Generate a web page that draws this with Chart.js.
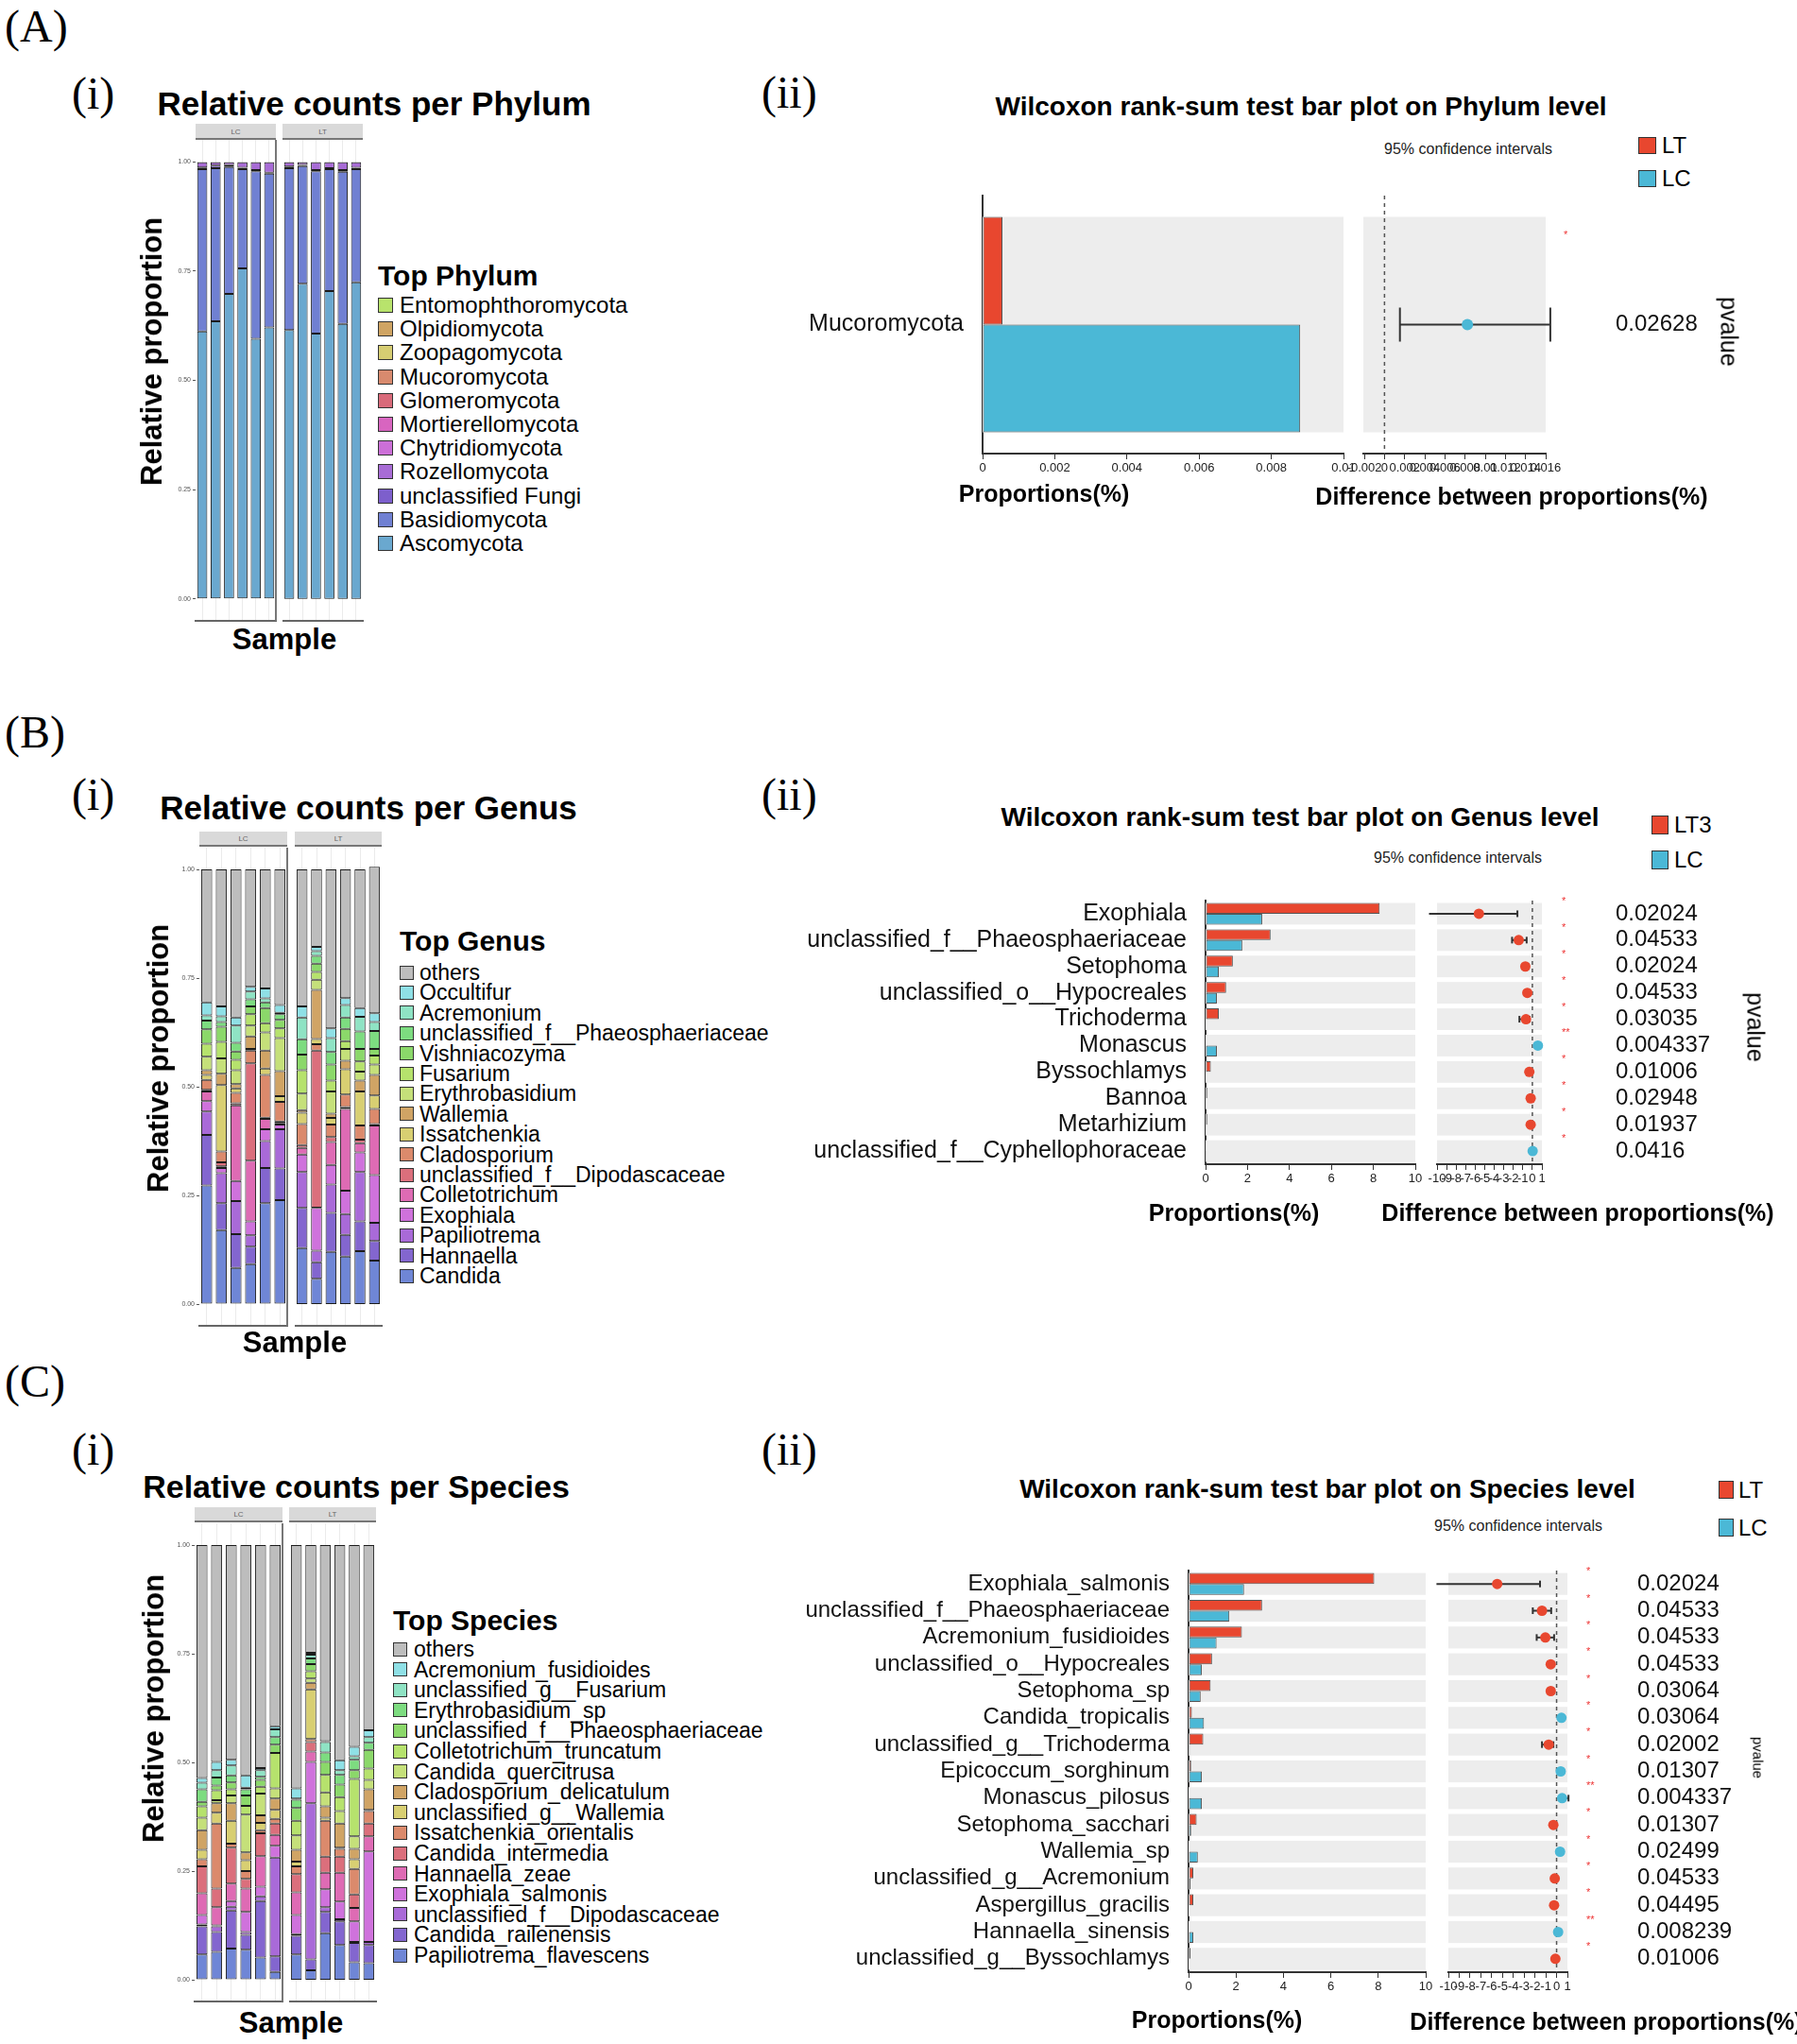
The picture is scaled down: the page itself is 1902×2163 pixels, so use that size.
<!DOCTYPE html>
<html>
<head>
<meta charset="utf-8">
<title>Fungal community composition and Wilcoxon tests</title>
<script src="https://cdn.jsdelivr.net/npm/chart.js@4.4.1/dist/chart.umd.min.js"></script>
<style>
  body { margin: 0; width: 1902px; height: 2163px; background: #fff; position: relative; overflow: hidden; }
  canvas { position: absolute; }
  .t { position: absolute; white-space: nowrap; line-height: 1; color: #000; }
  .box { position: absolute; box-sizing: border-box; border: 1px solid #333; }
  .strip { position: absolute; box-sizing: border-box; background: #d9d9d9; border-bottom: 2px solid #777;
           font: 8px "Liberation Sans", Arial, sans-serif; color: #666; text-align: center; }
</style>
</head>
<body>
<script>
// ---------- samples ----------
const samplesLC = ['LC1', 'LC2', 'LC3', 'LC4', 'LC5', 'LC6'];
const samplesLT = ['LT1', 'LT2', 'LT3', 'LT4', 'LT5', 'LT6'];
const yTicks = [0, 0.25, 0.5, 0.75, 1];

// ---------- (A i) phylum, stack order bottom -> top ----------
const phylumNames = ['Ascomycota', 'Basidiomycota', 'unclassified Fungi', 'Rozellomycota', 'Chytridiomycota',
  'Mortierellomycota', 'Glomeromycota', 'Mucoromycota', 'Zoopagomycota', 'Olpidiomycota', 'Entomophthoromycota'];
const phylumColors = ['#6aa8cf', '#7080d2', '#7d5fcc', '#a86cd6', '#cc6fd8', '#d865c0', '#d96a7a', '#d88a6e',
  '#d6cd72', '#cfa463', '#b8e36c'];
// one row per sample (LC1..LC6, LT1..LT6), columns follow phylumNames
const phylumBySample = [
  [0.612, 0.371, 0.004, 0.0115, 0.0005, 0.0004, 0.0002, 0.0001, 0.0001, 0.0001, 0.0001],
  [0.635, 0.350, 0.006, 0.0075, 0.0005, 0.0004, 0.0002, 0.0001, 0.0001, 0.0001, 0.0001],
  [0.698, 0.290, 0.004, 0.0065, 0.0005, 0.0004, 0.0002, 0.0001, 0.0001, 0.0001, 0.0001],
  [0.756, 0.227, 0.003, 0.0125, 0.0005, 0.0004, 0.0002, 0.0001, 0.0001, 0.0001, 0.0001],
  [0.595, 0.383, 0.003, 0.0175, 0.0005, 0.0004, 0.0002, 0.0001, 0.0001, 0.0001, 0.0001],
  [0.621, 0.352, 0.002, 0.0235, 0.0005, 0.0004, 0.0002, 0.0001, 0.0001, 0.0001, 0.0001],
  [0.615, 0.370, 0.004, 0.0095, 0.0005, 0.0004, 0.0002, 0.0001, 0.0001, 0.0001, 0.0001],
  [0.721, 0.269, 0.003, 0.0055, 0.0005, 0.0004, 0.0002, 0.0001, 0.0001, 0.0001, 0.0001],
  [0.607, 0.371, 0.003, 0.0175, 0.0005, 0.0004, 0.0002, 0.0001, 0.0001, 0.0001, 0.0001],
  [0.704, 0.279, 0.002, 0.0135, 0.0005, 0.0004, 0.0002, 0.0001, 0.0001, 0.0001, 0.0001],
  [0.629, 0.348, 0.004, 0.0175, 0.0005, 0.0004, 0.0002, 0.0001, 0.0001, 0.0001, 0.0001],
  [0.724, 0.259, 0.003, 0.0125, 0.0005, 0.0004, 0.0002, 0.0001, 0.0001, 0.0001, 0.0001]
];

// ---------- (B i) genus ----------
const genusNames = ['Candida', 'Hannaella', 'Papiliotrema', 'Exophiala', 'Colletotrichum',
  'unclassified_f__Dipodascaceae', 'Cladosporium', 'Issatchenkia', 'Wallemia', 'Erythrobasidium', 'Fusarium',
  'Vishniacozyma', 'unclassified_f__Phaeosphaeriaceae', 'Acremonium', 'Occultifur', 'others'];
const genusColors = ['#6f86d6', '#8366cf', '#a96ad8', '#cf72dc', '#de6bb4', '#db6f7c', '#db8a6c', '#d8cf72',
  '#d0a465', '#c5e07a', '#b6e26d', '#8bd86a', '#7ddc80', '#8fe3c4', '#8fe0e6', '#bdbdbd'];
const genusBySample = [
  [.273, .116, .054, .024, .022, .004, .023, .011, .011, .031, .030, .033, .020, .012, .030, .306],
  [.170, .062, .069, .012, .004, .009, .025, .153, .026, .035, .038, .035, .011, .013, .023, .315],
  [.083, .078, .076, .046, .174, .005, .024, .010, .010, .032, .024, .019, .020, .040, .018, .341],
  [.092, .040, .026, .032, .140, .224, .029, .004, .029, .025, .026, .018, .016, .018, .011, .270],
  [.232, .081, .062, .027, .024, .003, .098, .015, .041, .042, .021, .035, .013, .009, .023, .274],
  [.239, .073, .090, .011, .004, .003, .045, .013, .058, .076, .022, .020, .013, .003, .018, .312],
  [.129, .092, .083, .040, .015, .007, .048, .026, .006, .038, .054, .036, .035, .050, .026, .315],
  [.058, .038, .027, .098, .001, .361, .015, .012, .113, .023, .018, .019, .018, .011, .010, .178],
  [.120, .090, .065, .045, .053, .011, .029, .015, .010, .051, .025, .037, .029, .032, .022, .366],
  [.109, .050, .048, .054, .188, .004, .029, .058, .020, .027, .018, .028, .026, .029, .016, .296],
  [.122, .068, .114, .045, .021, .008, .033, .078, .025, .021, .023, .029, .040, .034, .020, .319],
  [.100, .045, .042, .110, .114, .003, .035, .031, .047, .024, .021, .015, .041, .021, .020, .337]
];

// ---------- (C i) species ----------
const speciesNames = ['Papiliotrema_flavescens', 'Candida_railenensis', 'unclassified_f__Dipodascaceae',
  'Exophiala_salmonis', 'Hannaella_zeae', 'Candida_intermedia', 'Issatchenkia_orientalis', 'unclassified_g__Wallemia',
  'Cladosporium_delicatulum', 'Candida_quercitrusa', 'Colletotrichum_truncatum', 'unclassified_f__Phaeosphaeriaceae',
  'Erythrobasidium_sp', 'unclassified_g__Fusarium', 'Acremonium_fusidioides', 'others'];
const speciesColors = ['#6f86d6', '#8366cf', '#a96ad8', '#cf72dc', '#de6bb4', '#db6f7c', '#db8a6c', '#d8cf72',
  '#d0a465', '#c5e07a', '#b6e26d', '#8bd86a', '#7ddc80', '#8fe3c4', '#8fe0e6', '#bdbdbd'];
const speciesBySample = [
  [.058, .065, .004, .022, .050, .062, .016, .022, .045, .029, .026, .010, .029, .015, .011, .536],
  [.064, .046, .013, .002, .042, .043, .149, .025, .022, .007, .023, .011, .018, .017, .019, .499],
  [.072, .087, .009, .013, .040, .083, .009, .053, .040, .018, .014, .016, .016, .023, .013, .494],
  [.069, .034, .007, .046, .054, .022, .018, .025, .018, .087, .020, .024, .014, .004, .028, .530],
  [.051, .130, .011, .022, .070, .053, .007, .017, .017, .050, .016, .016, .007, .015, .005, .513],
  [.018, .036, .227, .027, .025, .026, .011, .021, .026, .023, .082, .019, .017, .018, .007, .417],
  [.058, .043, .004, .044, .052, .042, .018, .011, .027, .033, .034, .029, .019, .003, .023, .560],
  [.022, .025, .359, .095, .024, .022, .007, .114, .015, .010, .017, .016, .013, .009, .004, .248],
  [.107, .049, .011, .041, .038, .037, .083, .007, .026, .032, .040, .030, .022, .024, .002, .451],
  [.080, .054, .005, .041, .066, .037, .018, .003, .055, .029, .032, .029, .022, .011, .023, .495],
  [.040, .045, .002, .047, .031, .031, .059, .022, .024, .029, .132, .020, .024, .008, .022, .464],
  [.038, .042, .007, .208, .035, .029, .029, .003, .047, .022, .026, .043, .016, .013, .016, .426]
];

// ---------- (A ii) Wilcoxon, phylum ----------
const phylumTestTaxa = ['Mucoromycota'];
const phylumTestLT = [0.00055];
const phylumTestLC = [0.0088];
const phylumDiff = [0.00823];
const phylumCiLow = [0.00153];
const phylumCiHigh = [0.01646];
const phylumP = [0.02628];
const phylumPropTicks = [0, 0.002, 0.004, 0.006, 0.008, 0.01];
const phylumDiffTicks = [-0.002, 0, 0.002, 0.004, 0.006, 0.008, 0.01, 0.012, 0.014, 0.016];

// ---------- (B ii) Wilcoxon, genus ----------
const genusTestTaxa = ['Exophiala', 'unclassified_f__Phaeosphaeriaceae', 'Setophoma', 'unclassified_o__Hypocreales',
  'Trichoderma', 'Monascus', 'Byssochlamys', 'Bannoa', 'Metarhizium', 'unclassified_f__Cyphellophoraceae'];
const genusTestLT = [8.3, 3.1, 1.3, 0.98, 0.63, 0.02, 0.25, 0.08, 0.08, 0.01];
const genusTestLC = [2.7, 1.75, 0.63, 0.54, 0.03, 0.54, 0.02, 0.01, 0.01, 0.04];
const genusDiff = [-5.61, -1.43, -0.74, -0.53, -0.67, 0.58, -0.32, -0.18, -0.18, 0.03];
const genusCiLow = [-10.84, -2.13, -1.0, -0.8, -1.36, 0.35, -0.45, -0.25, -0.25, 0.01];
const genusCiHigh = [-1.57, -0.6, -0.45, -0.3, -0.3, 0.8, -0.18, -0.1, -0.1, 0.05];
const genusP = [0.02024, 0.04533, 0.02024, 0.04533, 0.03035, 0.004337, 0.01006, 0.02948, 0.01937, 0.0416];

// ---------- (C ii) Wilcoxon, species ----------
const speciesTestTaxa = ['Exophiala_salmonis', 'unclassified_f__Phaeosphaeriaceae', 'Acremonium_fusidioides',
  'unclassified_o__Hypocreales', 'Setophoma_sp', 'Candida_tropicalis', 'unclassified_g__Trichoderma',
  'Epicoccum_sorghinum', 'Monascus_pilosus', 'Setophoma_sacchari', 'Wallemia_sp', 'unclassified_g__Acremonium',
  'Aspergillus_gracilis', 'Hannaella_sinensis', 'unclassified_g__Byssochlamys'];
const speciesTestLT = [7.83, 3.1, 2.25, 0.99, 0.93, 0.14, 0.62, 0.11, 0.03, 0.34, 0.03, 0.2, 0.2, 0.03, 0.08];
const speciesTestLC = [2.34, 1.72, 1.18, 0.56, 0.51, 0.65, 0.05, 0.56, 0.56, 0.11, 0.39, 0.08, 0.03, 0.2, 0.01];
const speciesDiff = [-5.49, -1.35, -1.04, -0.54, -0.54, 0.45, -0.73, 0.38, 0.51, -0.3, 0.32, -0.17, -0.23, 0.14, -0.11];
const speciesCiLow = [-11.1, -2.2, -1.84, -0.8, -0.8, 0.25, -1.35, 0.2, 0.3, -0.45, 0.15, -0.28, -0.35, 0.06, -0.18];
const speciesCiHigh = [-1.53, -0.5, -0.23, -0.3, -0.3, 0.65, -0.3, 0.55, 1.1, -0.15, 0.5, -0.08, -0.1, 0.22, -0.04];
const speciesP = [0.02024, 0.04533, 0.04533, 0.04533, 0.03064, 0.03064, 0.02002, 0.01307, 0.004337, 0.01307,
  0.02499, 0.04533, 0.04495, 0.008239, 0.01006];

const propTicks = [0, 2, 4, 6, 8, 10];
const diffTicks = [-10, -9, -8, -7, -6, -5, -4, -3, -2, -1, 0, 1];

// ---------- helpers ----------
const F = '"Liberation Sans", Arial, Helvetica, sans-serif';
const SERIF = '"Liberation Serif", "Times New Roman", serif';
const RED = '#e8472f';
const BLUE = '#4bb8d6';
Chart.defaults.font.family = F;
Chart.defaults.color = '#222';

function label(str, x, y, css, tf) {
  const d = document.createElement('div');
  d.className = 't';
  d.textContent = str;
  d.style.cssText += `left:${x}px;top:${y}px;${css};transform:${tf}`;
  document.body.appendChild(d);
  return d;
}
function box(x, y, w, h, color) {
  const d = document.createElement('div');
  d.className = 'box';
  d.style.cssText += `left:${x}px;top:${y}px;width:${w}px;height:${h}px;background:${color}`;
  document.body.appendChild(d);
}
function makeCanvas(x, y, w, h) {
  const c = document.createElement('canvas');
  c.width = w; c.height = h;
  c.style.cssText = `left:${x}px;top:${y}px;width:${w}px;height:${h}px`;
  document.body.appendChild(c);
  return c;
}
// scales ask for room for their end labels; the layout here is fixed, so drop it
function noPad(s) { s.paddingTop = 0; s.paddingBottom = 0; s.paddingLeft = 0; s.paddingRight = 0; }
const tickText = v => String(+Number(v).toFixed(4));
const MID = 'translate(-50%,-50%)';
const LEFTMID = 'translate(0,-50%)';
const VERT = 'translate(-50%,-50%) rotate(-90deg)';

// right edge of the LC facet
const framePlugin = {
  id: 'frame',
  afterDraw(chart, args, opts) {
    if (!opts.right) return;
    const { ctx, chartArea } = chart;
    ctx.save();
    ctx.strokeStyle = '#777';
    ctx.lineWidth = 2;
    ctx.beginPath();
    ctx.moveTo(chartArea.right, chartArea.top);
    ctx.lineTo(chartArea.right, chartArea.bottom);
    ctx.stroke();
    ctx.restore();
  }
};

// grey row bands, zero line, significance marks and p values
const testPlugin = {
  id: 'test',
  beforeDatasetsDraw(chart, args, opts) {
    const { ctx, chartArea } = chart;
    const ys = chart.scales.y;
    const step = (chartArea.bottom - chartArea.top) / opts.rows;
    ctx.save();
    ctx.fillStyle = '#ededed';
    for (let i = 0; i < opts.rows; i++) {
      const yc = ys.getPixelForValue(i);
      ctx.fillRect(chartArea.left, yc - step * opts.band / 2, chartArea.right - chartArea.left, step * opts.band);
    }
    if (opts.zero) {
      const x0 = chart.scales.x.getPixelForValue(0);
      ctx.strokeStyle = '#555';
      ctx.lineWidth = 1.5;
      ctx.setLineDash([4, 4]);
      ctx.beginPath();
      ctx.moveTo(x0, chartArea.top);
      ctx.lineTo(x0, chartArea.bottom);
      ctx.stroke();
    }
    ctx.restore();
  },
  afterDraw(chart, args, opts) {
    if (!opts.pvalues) return;
    const { ctx } = chart;
    const ys = chart.scales.y;
    ctx.save();
    opts.pvalues.forEach((p, i) => {
      const yc = ys.getPixelForValue(i);
      ctx.fillStyle = '#e33';
      ctx.font = `11px ${F}`;
      ctx.textAlign = 'left';
      ctx.textBaseline = 'middle';
      ctx.fillText(p < 0.01 ? '**' : '*', opts.sigX, yc + opts.sigDy);
      ctx.fillStyle = '#111';
      ctx.font = `24px ${F}`;
      ctx.fillText(String(p), opts.pX, yc);
    });
    ctx.restore();
  }
};

function stackFacet(left, right, top, bottom, samples, rows, names, colors, showY, edge) {
  const axisW = showY ? 32 : 0;
  const cLeft = left - axisW;
  const cv = makeCanvas(cLeft, top, right - cLeft + 2, bottom - top + 2);
  const datasets = names.map((name, k) => ({
    label: name,
    data: rows.map(r => r[k]),
    backgroundColor: colors[k],
    borderColor: '#1c1c1c',
    borderWidth: 1,
    borderSkipped: false,
    barPercentage: 0.75,
    categoryPercentage: 1
  }));
  new Chart(cv, {
    type: 'bar',
    data: { labels: samples, datasets },
    options: {
      responsive: false,
      animation: false,
      devicePixelRatio: 1,
      layout: { padding: { top: 0, right: 2, left: 0, bottom: 0 }, autoPadding: false },
      plugins: { legend: { display: false }, tooltip: { enabled: false }, frame: { right: edge } },
      scales: {
        x: {
          stacked: true,
          grid: { display: true, offset: false, color: '#ebebeb', drawTicks: false },
          ticks: { display: false },
          border: { display: true, color: '#666', width: 2 },
          afterFit: s => { s.height = 2; noPad(s); }
        },
        y: {
          stacked: true,
          display: showY,
          min: -0.05, max: 1.05,
          afterBuildTicks: s => { s.ticks = yTicks.map(v => ({ value: v })); },
          afterFit: s => { s.width = axisW; noPad(s); },
          ticks: { font: { size: 7 }, color: '#555', padding: 2, callback: v => v.toFixed(2) },
          grid: { display: true, drawOnChartArea: false, tickLength: 3, color: '#555' },
          border: { display: false }
        }
      }
    },
    plugins: [framePlugin]
  });
}

function stackPanel(geo, rows, names, colors) {
  stackFacet(geo.lc[0], geo.lc[1], geo.top, geo.bottom, samplesLC, rows.slice(0, 6), names, colors, true, true);
  stackFacet(geo.lt[0], geo.lt[1], geo.top, geo.bottom, samplesLT, rows.slice(6, 12), names, colors, false, false);
  [['LC', geo.lc], ['LT', geo.lt]].forEach(([txt, span]) => {
    const s = document.createElement('div');
    s.className = 'strip';
    s.textContent = txt;
    s.style.cssText += `left:${span[0]}px;top:${geo.strip[0]}px;width:${span[1] - span[0]}px;` +
      `height:${geo.strip[1] - geo.strip[0]}px;line-height:${geo.strip[1] - geo.strip[0]}px`;
    document.body.appendChild(s);
  });
}

function legend(title, names, colors, x, titleY, firstY, step, sw, textX, size) {
  label(title, x, titleY, `font:bold 30px ${F}`, LEFTMID);
  for (let k = names.length - 1, j = 0; k >= 0; k--, j++) {
    const y = firstY + j * step;
    box(x, y - sw / 2, sw, sw, colors[k]);
    label(names[k], textX, y, `font:${size}px ${F}`, LEFTMID);
  }
}

function testBars(g, taxa, lt, lc, xMax, ticks) {
  const cLeft = 800, cTop = g.top - 4, padR = 30;
  const cv = makeCanvas(cLeft, cTop, g.right + padR - cLeft, g.bottom - cTop + 40);
  const common = { borderColor: '#555', borderWidth: 1, borderSkipped: false, categoryPercentage: g.band, barPercentage: 1 };
  new Chart(cv, {
    type: 'bar',
    data: {
      labels: taxa,
      datasets: [
        Object.assign({ label: 'LT', data: lt, backgroundColor: RED }, common),
        Object.assign({ label: 'LC', data: lc, backgroundColor: BLUE }, common)
      ]
    },
    options: {
      indexAxis: 'y',
      responsive: false,
      animation: false,
      devicePixelRatio: 1,
      layout: { padding: { top: 4, right: padR, left: 0, bottom: 0 }, autoPadding: false },
      plugins: { legend: { display: false }, tooltip: { enabled: false }, test: { rows: taxa.length, band: g.band } },
      scales: {
        x: {
          type: 'linear', min: 0, max: xMax,
          afterBuildTicks: s => { s.ticks = ticks.map(v => ({ value: v })); },
          afterFit: s => { s.height = 40; noPad(s); },
          border: { display: true, color: '#333', width: 2 },
          grid: { display: true, drawOnChartArea: false, tickLength: 6, color: '#333' },
          ticks: { autoSkip: false, maxRotation: 0, font: { size: 13 }, color: '#222', padding: 2, callback: tickText }
        },
        y: {
          afterFit: s => { s.width = g.left - cLeft; noPad(s); },
          border: { display: true, color: '#333', width: 2 },
          grid: { display: false },
          ticks: { autoSkip: false, font: { size: g.font }, color: '#111', padding: 12 }
        }
      }
    },
    plugins: [testPlugin]
  });
}

function testDiff(g, diff, lo, hi, pvals, xMin, xMax, ticks) {
  const padL = 30;
  const cLeft = g.left - padL, cTop = g.top - 4;
  const n = diff.length;
  const cv = makeCanvas(cLeft, cTop, 1902 - cLeft, g.bottom - cTop + 40);
  const ciSets = lo.map((l, i) => ({
    type: 'line',
    data: [{ x: l, y: i }, { x: hi[i], y: i }],
    showLine: true,
    borderColor: '#333', borderWidth: 2,
    pointStyle: 'line', pointRotation: 90, pointRadius: g.cap,
    pointBorderColor: '#333', pointBorderWidth: 2,
    clip: false, order: 1
  }));
  new Chart(cv, {
    type: 'scatter',
    data: {
      datasets: [{
        label: 'difference',
        data: diff.map((v, i) => ({ x: v, y: i })),
        pointRadius: g.dot,
        pointBackgroundColor: diff.map(v => (v < 0 ? RED : BLUE)),
        pointBorderWidth: 0,
        clip: false, order: 0
      }].concat(ciSets)
    },
    options: {
      responsive: false,
      animation: false,
      devicePixelRatio: 1,
      layout: { padding: { top: 4, right: 1902 - g.right, left: padL, bottom: 0 }, autoPadding: false },
      plugins: {
        legend: { display: false }, tooltip: { enabled: false },
        test: { rows: n, band: g.band, zero: true, pvalues: pvals, sigX: g.sigX - cLeft, sigDy: g.sigDy, pX: g.pX - cLeft }
      },
      scales: {
        x: {
          type: 'linear', min: xMin, max: xMax,
          afterBuildTicks: s => { s.ticks = ticks.map(v => ({ value: v })); },
          afterFit: s => { s.height = 40; noPad(s); },
          border: { display: true, color: '#333', width: 2 },
          grid: { display: true, drawOnChartArea: false, tickLength: 6, color: '#333' },
          ticks: { autoSkip: false, maxRotation: 0, font: { size: 13 }, color: '#222', padding: 2, callback: tickText }
        },
        y: { type: 'linear', display: false, min: -0.5, max: n - 0.5, reverse: true }
      }
    },
    plugins: [testPlugin]
  });
}

function groupLegend(x, y1, y2, w, h, textX, names) {
  box(x, y1, w, h, RED);
  box(x, y2, w, h, BLUE);
  label(names[0], textX, y1 + h / 2, `font:24px ${F}`, LEFTMID);
  label(names[1], textX, y2 + h / 2, `font:24px ${F}`, LEFTMID);
}

// ---------- panel letters ----------
const letterCss = `font:48px ${SERIF}`;
label('(A)', 5, 27, letterCss, LEFTMID);
label('(i)', 76, 98, letterCss, LEFTMID);
label('(ii)', 806, 97, letterCss, LEFTMID);
label('(B)', 5, 774, letterCss, LEFTMID);
label('(i)', 76, 840, letterCss, LEFTMID);
label('(ii)', 806, 840, letterCss, LEFTMID);
label('(C)', 5, 1461, letterCss, LEFTMID);
label('(i)', 76, 1533, letterCss, LEFTMID);
label('(ii)', 806, 1533, letterCss, LEFTMID);

// ---------- (i) stacked panels ----------
const bold31 = `font:bold 31px ${F}`;
label('Relative counts per Phylum', 396, 110, `font:bold 35px ${F}`, MID);
stackPanel({ lc: [207, 292], lt: [299, 384], top: 148, bottom: 657, strip: [131, 148] }, phylumBySample, phylumNames, phylumColors);
label('Relative proportion', 161, 372, bold31, VERT);
label('Sample', 301, 677, bold31, MID);
legend('Top Phylum', phylumNames, phylumColors, 400, 292, 323, 25.2, 16, 423, 24);

label('Relative counts per Genus', 390, 855, `font:bold 35px ${F}`, MID);
stackPanel({ lc: [211, 304], lt: [312, 404], top: 897, bottom: 1403, strip: [880, 896] }, genusBySample, genusNames, genusColors);
label('Relative proportion', 168, 1120, bold31, VERT);
label('Sample', 312, 1421, bold31, MID);
legend('Top Genus', genusNames, genusColors, 423, 996, 1029, 21.4, 15, 444, 23);

label('Relative counts per Species', 377, 1573, `font:bold 34px ${F}`, MID);
stackPanel({ lc: [206, 299], lt: [306, 398], top: 1612, bottom: 2118, strip: [1595, 1611] }, speciesBySample, speciesNames, speciesColors);
label('Relative proportion', 163, 1808, bold31, VERT);
label('Sample', 308, 2141, bold31, MID);
legend('Top Species', speciesNames, speciesColors, 416, 1715, 1745, 21.6, 15, 438, 23);

// ---------- (ii) Wilcoxon panels ----------
const title28 = `font:bold 28px ${F}`;
const bold25 = `font:bold 25px ${F}`;
const ci16 = `font:16px ${F};color:#222`;

label('Wilcoxon rank-sum test bar plot on Phylum level', 1377, 113, title28, MID);
label('95% confidence intervals', 1554, 158, ci16, MID);
groupLegend(1734, 145, 180, 19, 18, 1759, ['LT', 'LC']);
testBars({ left: 1040, right: 1422, top: 207, bottom: 480, band: 0.835, font: 25 },
  phylumTestTaxa, phylumTestLT, phylumTestLC, 0.01, phylumPropTicks);
testDiff({ left: 1443, right: 1636, top: 207, bottom: 480, band: 0.835, dot: 6, cap: 18, sigX: 1655, sigDy: -95, pX: 1710 },
  phylumDiff, phylumCiLow, phylumCiHigh, phylumP, -0.0021, 0.016, phylumDiffTicks);
label('Proportions(%)', 1105, 522, bold25, MID);
label('Difference between proportions(%)', 1600, 525, bold25, MID);
label('pvalue', 1830, 351, `font:25px ${F}`, 'translate(-50%,-50%) rotate(90deg)');

label('Wilcoxon rank-sum test bar plot on Genus level', 1376, 865, title28, MID);
label('95% confidence intervals', 1543, 908, ci16, MID);
groupLegend(1748, 863, 900, 18, 20, 1772, ['LT3', 'LC']);
testBars({ left: 1276, right: 1498, top: 953, bottom: 1232, band: 0.82, font: 25 },
  genusTestTaxa, genusTestLT, genusTestLC, 10, propTicks);
testDiff({ left: 1521, right: 1632, top: 953, bottom: 1232, band: 0.82, dot: 5.5, cap: 3.5, sigX: 1653, sigDy: -13, pX: 1710 },
  genusDiff, genusCiLow, genusCiHigh, genusP, -10, 1, diffTicks);
label('Proportions(%)', 1306, 1283, bold25, MID);
label('Difference between proportions(%)', 1670, 1283, bold25, MID);
label('pvalue', 1858, 1087, `font:25px ${F}`, 'translate(-50%,-50%) rotate(90deg)');

label('Wilcoxon rank-sum test bar plot on Species level', 1405, 1576, title28, MID);
label('95% confidence intervals', 1607, 1615, ci16, MID);
groupLegend(1819, 1567, 1607, 16, 19, 1840, ['LT', 'LC']);
testBars({ left: 1258, right: 1509, top: 1662, bottom: 2087, band: 0.82, font: 24 },
  speciesTestTaxa, speciesTestLT, speciesTestLC, 10, propTicks);
testDiff({ left: 1533, right: 1659, top: 1662, bottom: 2087, band: 0.82, dot: 5.5, cap: 3.5, sigX: 1679, sigDy: -13, pX: 1733 },
  speciesDiff, speciesCiLow, speciesCiHigh, speciesP, -10, 1, diffTicks);
label('Proportions(%)', 1288, 2137, bold25, MID);
label('Difference between proportions(%)', 1700, 2139, bold25, MID);
label('pvalue', 1861, 1860, `font:15px ${F}`, 'translate(-50%,-50%) rotate(90deg)');
</script>
</body>
</html>
